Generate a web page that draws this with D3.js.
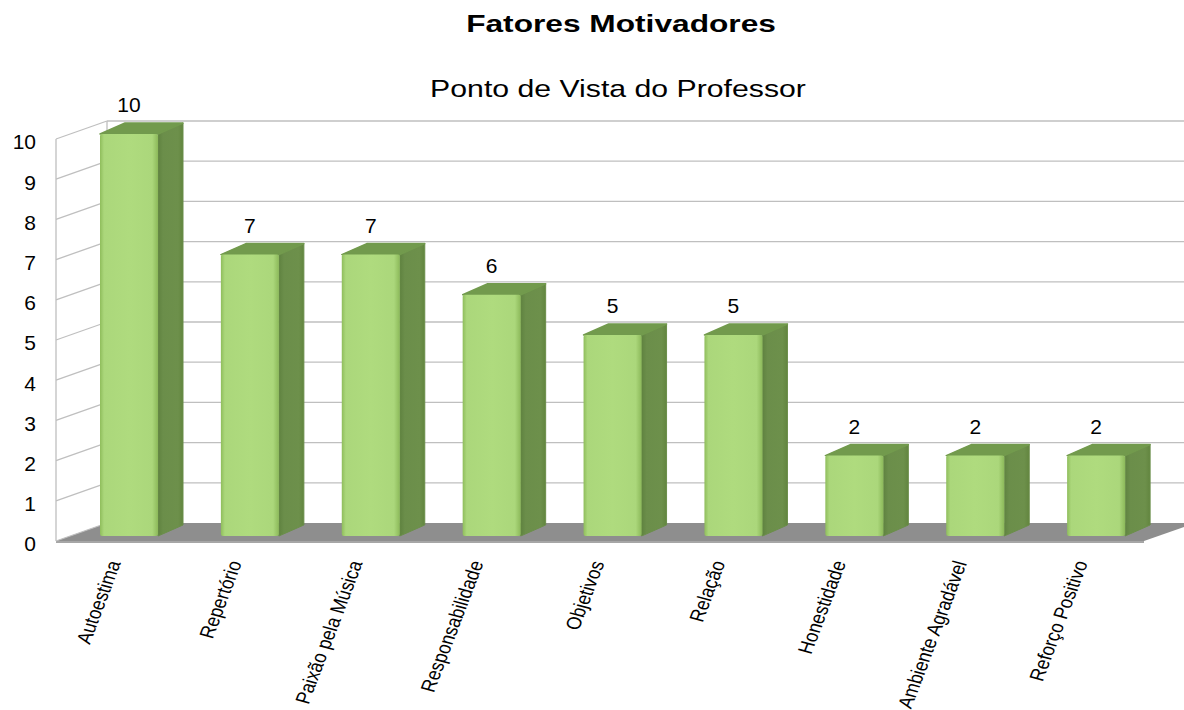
<!DOCTYPE html>
<html>
<head>
<meta charset="utf-8">
<script src="https://cdn.jsdelivr.net/npm/d3@7"></script>
<style>
  body { margin: 0; background: #fff; }
  svg text { font-family: "Liberation Sans", Arial, sans-serif; fill: #000; }
</style>
</head>
<body>
<div id="chart"></div>
<script>
const categories = ['Autoestima', 'Repertório', 'Paixão pela Música', 'Responsabilidade', 'Objetivos',
    'Relação', 'Honestidade', 'Ambiente Agradável', 'Reforço Positivo'];
const values = [10, 7, 7, 6, 5, 5, 2, 2, 2];
const yTicks = [0, 1, 2, 3, 4, 5, 6, 7, 8, 9, 10];

const width = 1184;
const height = 710;

// front plane of the plot, wall depth offset, bar depth offset
const front = {left: 56, right: 1144, bottom: 541, top: 139};
const wall = {dx: 51, dy: -18};
const bar = {inset: 44, width: 58, dx: 25, dy: -11, lift: -5};

const svg = d3.select('#chart')
    .append('svg')
    .attr('width', width)
    .attr('height', height);

const defs = svg.append('defs');
const grad = defs.append('linearGradient')
    .attr('id', 'frontGrad')
    .attr('x1', '0%').attr('x2', '100%').attr('y1', '0%').attr('y2', '0%');
[['0%', '#8fbd5c'], ['7%', '#abd77b'], ['50%', '#afdb7e'], ['90%', '#abd77b'], ['100%', '#8cb95a']]
    .forEach(([o, c]) => grad.append('stop').attr('offset', o).attr('stop-color', c));

const sideGrad = defs.append('linearGradient')
    .attr('id', 'sideGrad')
    .attr('x1', '0%').attr('x2', '100%').attr('y1', '0%').attr('y2', '0%');
[['0%', '#5f8240'], ['20%', '#6b8e4a'], ['80%', '#6d904b'], ['100%', '#62853f']]
    .forEach(([o, c]) => sideGrad.append('stop').attr('offset', o).attr('stop-color', c));

const x = d3.scaleBand()
    .domain(categories)
    .range([front.left, front.right]);

const y = d3.scaleLinear()
    .domain([0, 10])
    .range([front.bottom, front.top]);

// titles (the source picture is stretched sideways, so stretch the text too)
svg.append('text')
    .attr('transform', 'translate(621,32) scale(1.32,1)')
    .attr('text-anchor', 'middle')
    .style('font-size', '24px')
    .style('font-weight', 'bold')
    .text('Fatores Motivadores');

svg.append('text')
    .attr('transform', 'translate(618,97) scale(1.26,1)')
    .attr('text-anchor', 'middle')
    .style('font-size', '24px')
    .text('Ponto de Vista do Professor');

// floor
const floorPts = [
    [front.left, front.bottom],
    [front.left + wall.dx, front.bottom + wall.dy],
    [front.right + wall.dx, front.bottom + wall.dy],
    [front.right, front.bottom]
];
svg.append('polygon')
    .attr('points', floorPts.map(p => p.join(',')).join(' '))
    .attr('fill', '#8e8e8e');
svg.append('line')
    .attr('x1', front.left).attr('x2', front.right)
    .attr('y1', front.bottom + 1).attr('y2', front.bottom + 1)
    .attr('stroke', '#a6a6a6').attr('stroke-width', 2);

// gridlines: back wall + left wall
const grid = svg.append('g')
    .attr('stroke', '#bfbfbf')
    .attr('stroke-width', 1.3)
    .attr('fill', 'none');

grid.selectAll('.back')
    .data(yTicks.filter(d => d > 0))
    .enter()
    .append('line')
    .attr('x1', front.left + wall.dx).attr('x2', width)
    .attr('y1', d => y(d) + wall.dy).attr('y2', d => y(d) + wall.dy);

grid.selectAll('.side')
    .data(yTicks)
    .enter()
    .append('line')
    .attr('x1', front.left).attr('x2', front.left + wall.dx)
    .attr('y1', d => y(d)).attr('y2', d => y(d) + wall.dy);

grid.append('line')
    .attr('x1', front.left).attr('x2', front.left)
    .attr('y1', y(0)).attr('y2', y(10));
grid.append('line')
    .attr('x1', front.left + wall.dx).attr('x2', front.left + wall.dx)
    .attr('y1', y(0) + wall.dy).attr('y2', y(10) + wall.dy);

// y tick labels
svg.selectAll('.ytick')
    .data(yTicks)
    .enter()
    .append('text')
    .attr('x', 36)
    .attr('y', d => y(d) + 3)
    .attr('dy', '0.35em')
    .attr('text-anchor', 'end')
    .style('font-size', '21px')
    .text(d => d);

// bars
const bars = svg.selectAll('.bar')
    .data(categories.map((c, i) => ({cat: c, value: values[i]})))
    .enter()
    .append('g')
    .attr('class', 'bar');

const bx = d => x(d.cat) + bar.inset;
const by = v => y(v) + bar.lift;

bars.append('polygon')
    .attr('points', d => {
        const l = bx(d) + bar.width, t = by(d.value), b = by(0);
        return [[l, t], [l + bar.dx, t + bar.dy], [l + bar.dx, b + bar.dy], [l, b]].map(p => p.join(',')).join(' ');
    })
    .attr('fill', 'url(#sideGrad)')
    .attr('stroke', '#6b8e4a').attr('stroke-width', 1).attr('stroke-linejoin', 'round');

bars.append('polygon')
    .attr('points', d => {
        const l = bx(d), r = l + bar.width, t = by(d.value);
        return [[l, t], [l + bar.dx, t + bar.dy], [r + bar.dx, t + bar.dy], [r, t]].map(p => p.join(',')).join(' ');
    })
    .attr('fill', '#729a4d')
    .attr('stroke', '#729a4d').attr('stroke-width', 1.5).attr('stroke-linejoin', 'round');

bars.append('rect')
    .attr('x', d => bx(d))
    .attr('y', d => by(d.value))
    .attr('width', bar.width)
    .attr('height', d => by(0) - by(d.value))
    .attr('rx', 2)
    .attr('fill', 'url(#frontGrad)');

// value labels
bars.append('text')
    .attr('x', d => bx(d) + bar.width / 2)
    .attr('y', d => by(d.value) + bar.dy - 11)
    .attr('text-anchor', 'middle')
    .style('font-size', '21px')
    .text(d => d.value);

// category labels
svg.selectAll('.xlabel')
    .data(categories)
    .enter()
    .append('text')
    .attr('text-anchor', 'end')
    .attr('transform', d => `translate(${x(d) + bar.inset + bar.width / 2 - 8},563) scale(1.2,1) rotate(-72.3)`)
    .style('font-size', '17.2px')
    .text(d => d);
</script>
</body>
</html>
